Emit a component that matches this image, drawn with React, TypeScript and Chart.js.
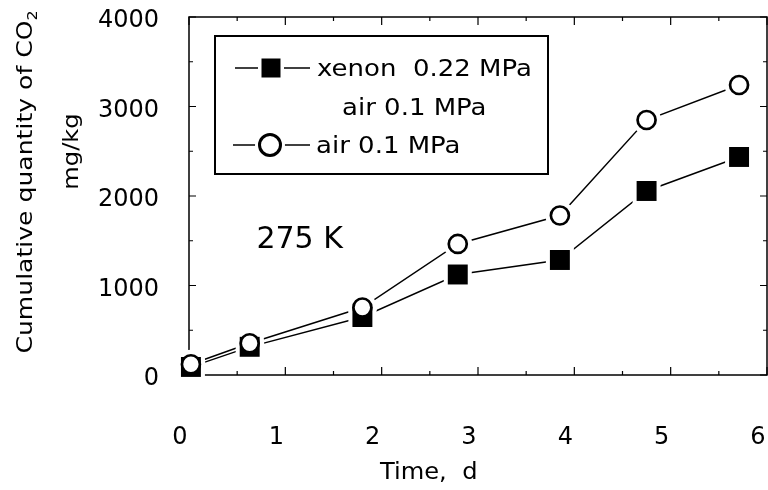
import React, { useEffect, useRef } from "react";
import { Chart, registerables } from "chart.js";

Chart.register(...registerables);

// ---- data ----
const days = [0.02, 0.63, 1.8, 2.79, 3.85, 4.75, 5.71];
const xenonAir = [90, 315, 648, 1123, 1285, 2056, 2436];
const airOnly = [120, 355, 754, 1464, 1782, 2849, 3240];
const xTickValues = [0, 1, 2, 3, 4, 5, 6];
const yTickValues = [0, 1000, 2000, 3000, 4000];
const legendLabels = ["xenon  0.22 MPa", "air 0.1 MPa", "air 0.1 MPa"];
const xTitle = "Time,  d";
const yTitleMain = "Cumulative quantity of CO";
const yTitleSub = "2";
const yUnit = "mg/kg";
const annotationText = "275 K";
const annotationPos = { x: 0.7, y: 1420 };

const FONT = '"DejaVu Sans"';

function txt(
  ctx: CanvasRenderingContext2D,
  text: string,
  x: number,
  y: number,
  size: number,
  stretch: number,
  align: CanvasTextAlign = "left",
  rot = 0
) {
  ctx.save();
  ctx.translate(x, y);
  if (rot) ctx.rotate(rot);
  ctx.scale(stretch, 1);
  ctx.font = `${size}px ${FONT}`;
  ctx.textAlign = align;
  ctx.textBaseline = "alphabetic";
  ctx.fillStyle = "#000";
  ctx.fillText(text, 0, 0);
  ctx.restore();
}

const framePlugin = {
  id: "frame",
  beforeDatasetsDraw(chart: any) {
    const ctx = chart.ctx as CanvasRenderingContext2D;
    const { left, right, top, bottom } = chart.chartArea;
    const xs = chart.scales.x;
    const ys = chart.scales.y;
    ctx.save();
    ctx.strokeStyle = "#000";
    ctx.lineWidth = 1.5;
    ctx.strokeRect(left, top, right - left, bottom - top);
    ctx.lineWidth = 1.2;
    const xMinor = xTickValues.slice(1).map((v, i) => (v + xTickValues[i]) / 2);
    const yMinor = yTickValues.slice(1).map((v, i) => (v + yTickValues[i]) / 2);
    const drawX = (v: number, len: number) => {
      const p = xs.getPixelForValue(v);
      ctx.beginPath();
      ctx.moveTo(p, bottom);
      ctx.lineTo(p, bottom - len);
      ctx.moveTo(p, top);
      ctx.lineTo(p, top + len);
      ctx.stroke();
    };
    const drawY = (v: number, len: number) => {
      const p = ys.getPixelForValue(v);
      ctx.beginPath();
      ctx.moveTo(left, p);
      ctx.lineTo(left + len, p);
      ctx.moveTo(right, p);
      ctx.lineTo(right - len, p);
      ctx.stroke();
    };
    xTickValues.forEach((v) => drawX(v, 8));
    xMinor.forEach((v) => drawX(v, 4));
    yTickValues.forEach((v) => drawY(v, 7));
    yMinor.forEach((v) => drawY(v, 4));
    ctx.restore();
  },
  afterDraw(chart: any) {
    const ctx = chart.ctx as CanvasRenderingContext2D;
    const { left, top } = chart.chartArea;
    const xs = chart.scales.x;
    const ys = chart.scales.y;

    // y-axis title (rotated, with subscript)
    ctx.save();
    ctx.font = `22px ${FONT}`;
    const wMain = ctx.measureText(yTitleMain).width;
    ctx.font = `14px ${FONT}`;
    const wSub = ctx.measureText(yTitleSub).width;
    ctx.restore();
    const total = wMain + wSub;
    ctx.save();
    ctx.translate(32, 182);
    ctx.rotate(-Math.PI / 2);
    ctx.scale(1.14, 1);
    ctx.fillStyle = "#000";
    ctx.textBaseline = "alphabetic";
    ctx.textAlign = "left";
    ctx.font = `22px ${FONT}`;
    ctx.fillText(yTitleMain, -total / 2, 0);
    ctx.font = `14px ${FONT}`;
    ctx.fillText(yTitleSub, -total / 2 + wMain, 5);
    ctx.restore();
    txt(ctx, yUnit, 78, 151.5, 21, 1.15, "center", -Math.PI / 2);

    // x-axis title
    txt(ctx, xTitle, 380, 479, 23, 1.05, "left");

    // annotation
    txt(
      ctx,
      annotationText,
      xs.getPixelForValue(annotationPos.x),
      ys.getPixelForValue(annotationPos.y),
      30,
      1.0,
      "left"
    );

    // legend
    const bx = left + 26;
    const by = top + 19;
    ctx.save();
    ctx.strokeStyle = "#000";
    ctx.lineWidth = 2;
    ctx.strokeRect(bx, by, 333, 138);
    const r1 = by + 32;
    ctx.lineWidth = 1.3;
    ctx.beginPath();
    ctx.moveTo(bx + 20, r1);
    ctx.lineTo(bx + 95, r1);
    ctx.stroke();
    ctx.fillStyle = "#fff";
    ctx.fillRect(bx + 56 - 13, r1 - 13, 26, 26);
    ctx.fillStyle = "#000";
    ctx.fillRect(bx + 56 - 9.5, r1 - 9.5, 19, 19);
    txt(ctx, legendLabels[0], bx + 102, r1 + 8, 23, 1.13);
    txt(ctx, legendLabels[1], bx + 127, by + 79, 23, 1.13);
    const r3 = by + 109;
    ctx.lineWidth = 1.3;
    ctx.beginPath();
    ctx.moveTo(bx + 18, r3);
    ctx.lineTo(bx + 95, r3);
    ctx.stroke();
    ctx.fillStyle = "#fff";
    ctx.beginPath();
    ctx.arc(bx + 55, r3, 15, 0, Math.PI * 2);
    ctx.fill();
    ctx.lineWidth = 3;
    ctx.beginPath();
    ctx.arc(bx + 55, r3, 10.5, 0, Math.PI * 2);
    ctx.fill();
    ctx.stroke();
    txt(ctx, legendLabels[2], bx + 101, r3 + 8, 23, 1.13);
    ctx.restore();
  },
};

export default function App() {
  const ref = useRef<HTMLCanvasElement | null>(null);

  useEffect(() => {
    if (!ref.current) return;
    const pts = (ys: number[]) => days.map((d, i) => ({ x: d, y: ys[i] }));
    const lineDs = (label: string, ys: number[]) => ({
      label,
      data: pts(ys),
      borderColor: "#000",
      borderWidth: 1.4,
      pointRadius: 0,
      tension: 0,
      fill: false,
      clip: false,
      order: 10,
    });
    const markerDs = (label: string, ys: number[], extra: any, order: number) => ({
      label,
      data: pts(ys),
      showLine: false,
      clip: false,
      order,
      ...extra,
    });
    const chart = new Chart(ref.current, {
      type: "line",
      data: {
        datasets: [
          lineDs("xenon line", xenonAir),
          lineDs("air line", airOnly),
          markerDs("xenon halo", xenonAir, {
            pointStyle: "rect",
            pointRadius: 19.8,
            pointBackgroundColor: "#fff",
            pointBorderWidth: 0,
          }, 5),
          markerDs("air halo", airOnly, {
            pointStyle: "circle",
            pointRadius: 14.5,
            pointBackgroundColor: "#fff",
            pointBorderWidth: 0,
          }, 5),
          markerDs(legendLabels[0] + " / " + legendLabels[1], xenonAir, {
            pointStyle: "rect",
            pointRadius: 14.1,
            pointBackgroundColor: "#000",
            pointBorderColor: "#000",
            pointBorderWidth: 0,
          }, 2),
          markerDs(legendLabels[2], airOnly, {
            pointStyle: "circle",
            pointRadius: 9,
            pointBackgroundColor: "#fff",
            pointBorderColor: "#000",
            pointBorderWidth: 2.7,
          }, 1),
        ],
      },
      options: {
        animation: false,
        responsive: false,
        events: [],
        layout: { autoPadding: false, padding: { top: 17, right: 1, left: 0, bottom: 0 } },
        plugins: {
          legend: { display: false },
          tooltip: { enabled: false },
          title: { display: false },
        },
        scales: {
          x: {
            type: "linear",
            min: 0,
            max: 6,
            grid: { display: false },
            border: { display: false },
            ticks: {
              stepSize: 1,
              autoSkip: false,
              maxRotation: 0,
              padding: 40,
              labelOffset: -9,
              color: "#000",
              font: { family: "DejaVu Sans", size: 24 },
              callback: (v: any) => String(v),
            },
            afterFit: (s: any) => {
              s.height = 115;
              s.paddingLeft = 0;
              s.paddingRight = 0;
            },
          },
          y: {
            type: "linear",
            min: 0,
            max: 4000,
            grid: { display: false },
            border: { display: false },
            ticks: {
              stepSize: 1000,
              autoSkip: false,
              padding: 22,
              labelOffset: 4,
              color: "#000",
              font: { family: "DejaVu Sans", size: 24 },
              callback: (v: any) => String(v),
            },
            afterFit: (s: any) => {
              s.width = 189;
              s.paddingTop = 0;
              s.paddingBottom = 0;
            },
          },
        },
      },
      plugins: [framePlugin],
    } as any);
    return () => chart.destroy();
  }, []);

  return (
    <div style={{ position: "fixed", left: 0, top: 0, width: 768, height: 490, background: "#fff" }}>
      <canvas ref={ref} width={768} height={490} style={{ width: 768, height: 490, display: "block" }} />
    </div>
  );
}
